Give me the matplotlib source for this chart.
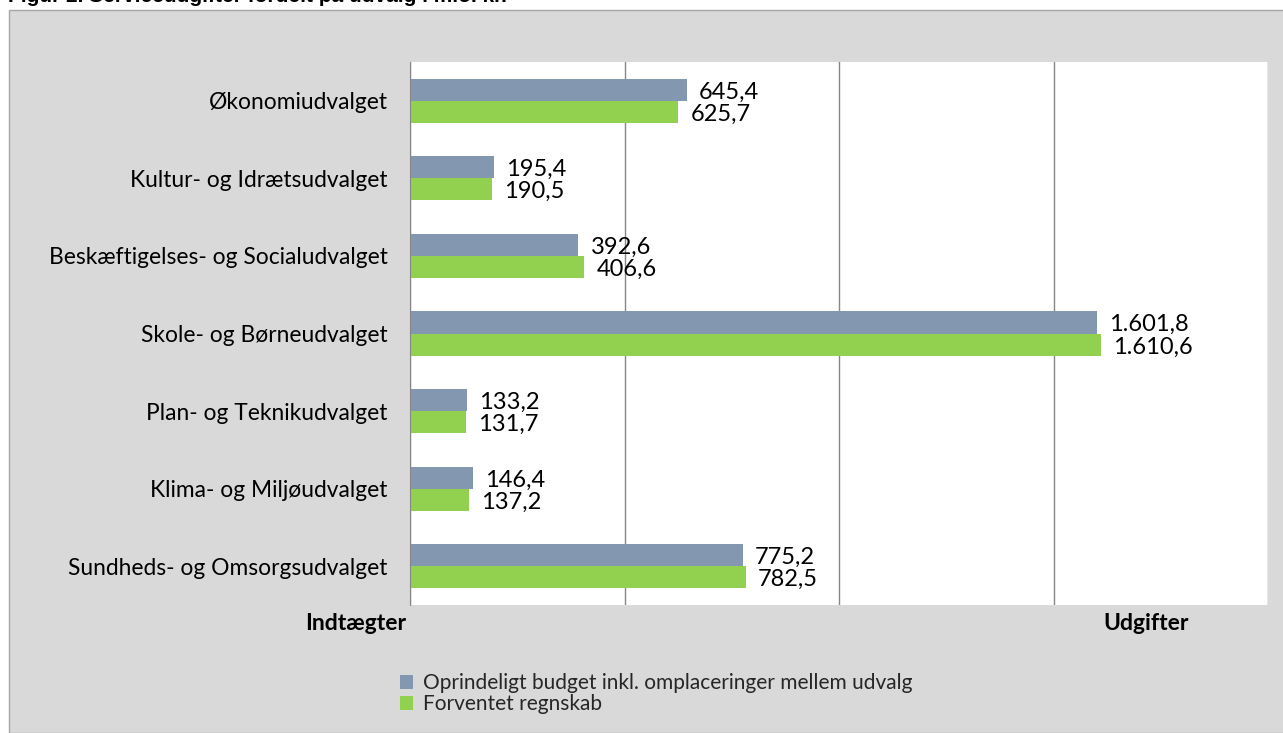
import matplotlib
matplotlib.use("Agg")
import matplotlib.pyplot as plt
from matplotlib.patches import Rectangle, Patch
import numpy as np

categories = ["Økonomiudvalget", "Kultur- og Idrætsudvalget", "Beskæftigelses- og Socialudvalget",
              "Skole- og Børneudvalget", "Plan- og Teknikudvalget", "Klima- og Miljøudvalget",
              "Sundheds- og Omsorgsudvalget"]
budget = [645.4, 195.4, 392.6, 1601.8, 133.2, 146.4, 775.2]
regnskab = [625.7, 190.5, 406.6, 1610.6, 131.7, 137.2, 782.5]
budget_labels = ["645,4", "195,4", "392,6", "1.601,8", "133,2", "146,4", "775,2"]
regnskab_labels = ["625,7", "190,5", "406,6", "1.610,6", "131,7", "137,2", "782,5"]
series_names = ["Oprindeligt budget inkl. omplaceringer mellem udvalg", "Forventet regnskab"]

W, H = 1283, 733
fig = plt.figure(figsize=(W / 100, H / 100), dpi=100)
fig.patch.set_facecolor("white")
plt.rcParams['font.family'] = ['Lato', 'DejaVu Sans']

# gray outer panel
fig.patches.append(Rectangle((9 / W, 0), 1, 1 - 10 / H, transform=fig.transFigure,
                             facecolor="#D9D9D9", edgecolor="#A6A6A6", lw=1, zorder=-5))
fig.text(8 / W, 1 + 15 / H, "Figur 2. Serviceudgifter fordelt på udvalg i mio. kr.",
         fontsize=15, fontweight="bold", family="Liberation Sans", va="top", ha="left")

ax = fig.add_axes([410 / W, 1 - 605 / H, 858 / W, 543 / H])
ax.set_zorder(1)
ax.set_facecolor("white")
blue = "#8497B0"
green = "#92D050"
y = np.arange(len(categories))
h = 0.285
ax.barh(y - h / 2, budget, height=h, color=blue, zorder=2)
ax.barh(y + h / 2, regnskab, height=h, color=green, zorder=2)
for i in range(len(categories)):
    ax.text(budget[i] + 28, y[i] - h / 2 + 0.03, budget_labels[i], va="center", ha="left", fontsize=17)
    ax.text(regnskab[i] + 28, y[i] + h / 2 + 0.03, regnskab_labels[i], va="center", ha="left", fontsize=17)
ax.set_xlim(0, 2000)
ax.set_ylim(len(categories) - 0.5, -0.5)
ax.set_xticks([0, 500, 1000, 1500, 2000])
ax.set_xticklabels([])
ax.xaxis.grid(True, color="#868686", lw=1, zorder=0)
ax.tick_params(axis="x", length=0)
ax.set_yticks(y)
ax.set_yticklabels(categories, fontsize=16.4)
ax.tick_params(axis="y", length=0, pad=16)
for s in ["top", "right", "bottom"]:
    ax.spines[s].set_visible(False)
ax.spines["left"].set_color("#868686")

fig.text(305 / W, 1 - 623 / H, "Indtægter", fontsize=16.5, fontweight="bold", va="center", ha="left")
fig.text(1103 / W, 1 - 623 / H, "Udgifter", fontsize=16.5, fontweight="bold", va="center", ha="left")

handles = [Patch(facecolor=blue), Patch(facecolor=green)]
fig.legend(handles, series_names, loc="upper left", bbox_to_anchor=(392 / W, 1 - 665 / H),
           frameon=False, fontsize=15, handlelength=0.6, handleheight=0.6, handletextpad=0.5,
           labelspacing=0.05, borderaxespad=0, labelcolor="#262626")

fig.savefig("out.png", dpi=100)
